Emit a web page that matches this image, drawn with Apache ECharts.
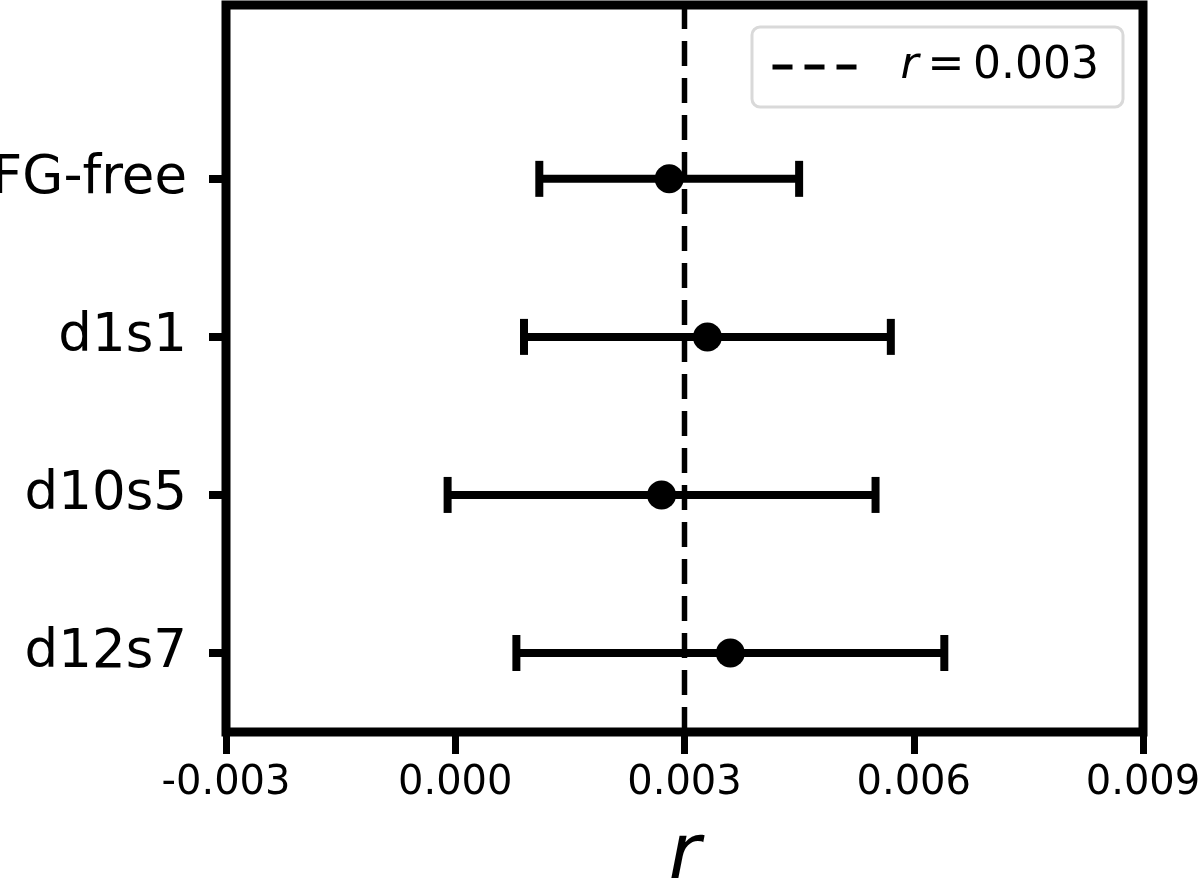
<!DOCTYPE html>
<html>
<head>
<meta charset="utf-8">
<script src="https://cdn.jsdelivr.net/npm/echarts@6/dist/echarts.min.js"></script>
<style>
html,body{margin:0;padding:0;background:#fff;}
#chart{width:1200px;height:878px;}
</style>
</head>
<body>
<div id="chart"></div>
<script>
const categories = ['FG-free', 'd1s1', 'd10s5', 'd12s7'];
const rValues = [0.0028, 0.0033, 0.0027, 0.0036];
const rErrors = [0.0017, 0.0024, 0.0028, 0.0028];
const refR = 0.003;
const refLabel = 'r = 0.003';
const xMin = -0.003, xMax = 0.009, xStep = 0.003;
const yMin = -0.5, yMax = 4.1;
const catPos = categories.map((c, i) => categories.length - 1 - i);

const FONT = 'DejaVu Sans';
const chart = echarts.init(document.getElementById('chart'), null, {renderer: 'canvas'});

const errData = categories.map((c, i) => [rValues[i] - rErrors[i], rValues[i] + rErrors[i], catPos[i]]);
const ptData = categories.map((c, i) => [rValues[i], catPos[i]]);

chart.setOption({
  animation: false,
  backgroundColor: '#fff',
  grid: {
    left: 226, right: 57, top: 5, bottom: 146,
    outerBoundsMode: 'none', containLabel: false,
    show: true, borderColor: '#000', borderWidth: 9, backgroundColor: 'transparent'
  },
  legend: {
    data: [refLabel],
    left: 752, top: 27,
    padding: [15, 24, 15, 18],
    itemWidth: 88, itemHeight: 14,
    backgroundColor: '#fff',
    borderColor: '#d9d9d9', borderWidth: 3, borderRadius: 8,
    formatter: () => '{i|r}\u2009=\u20090.003',
    lineStyle: {type: [20, 12], width: 5, color: '#000'},
    itemStyle: {color: 'transparent', borderWidth: 0, opacity: 0},
    textStyle: {
      fontFamily: FONT, fontSize: 44, color: '#000', lineHeight: 50,
      padding: [0, 0, 0, 35],
      rich: {i: {fontFamily: FONT, fontSize: 44, fontStyle: 'italic', color: '#000'}}
    }
  },
  xAxis: {
    type: 'value', min: xMin, max: xMax, interval: xStep,
    axisLine: {show: false, onZero: false},
    splitLine: {show: false},
    axisTick: {show: true, length: 22, lineStyle: {color: '#000', width: 7}},
    axisLabel: {
      fontFamily: FONT, fontSize: 40, color: '#000', margin: 32,
      showMinLabel: true, showMaxLabel: true,
      formatter: v => v.toFixed(3)
    },
    name: 'r', nameLocation: 'middle', nameGap: 88,
    nameTextStyle: {fontFamily: FONT, fontSize: 78, fontStyle: 'italic', color: '#000'}
  },
  yAxis: {
    type: 'value', min: yMin, max: yMax,
    axisLine: {show: false, onZero: false},
    splitLine: {show: false},
    axisTick: {show: true, length: 17, customValues: catPos.slice().reverse(), lineStyle: {color: '#000', width: 8}},
    axisLabel: {
      fontFamily: FONT, fontSize: 53, color: '#000', margin: 39,
      customValues: catPos.slice().reverse(),
      formatter: v => categories[categories.length - 1 - Math.round(v)]
    }
  },
  series: [
    {
      name: refLabel,
      type: 'line',
      data: [[refR, yMin], [refR, yMax]],
      symbol: 'none', showSymbol: false,
      lineStyle: {color: '#000', width: 5.5, type: [25, 12]},
      itemStyle: {color: '#000'},
      silent: true, z: 2
    },
    {
      type: 'custom',
      data: errData,
      encode: {x: [0, 1], y: 2},
      renderItem: function (params, api) {
        const y = api.value(2);
        const p1 = api.coord([api.value(0), y]);
        const p2 = api.coord([api.value(1), y]);
        const h = 18;
        const st = {stroke: '#000', lineWidth: 8, lineCap: 'butt'};
        return {
          type: 'group',
          children: [
            {type: 'line', shape: {x1: p1[0], y1: p1[1], x2: p2[0], y2: p2[1]}, style: st},
            {type: 'line', shape: {x1: p1[0], y1: p1[1] - h, x2: p1[0], y2: p1[1] + h}, style: st},
            {type: 'line', shape: {x1: p2[0], y1: p2[1] - h, x2: p2[0], y2: p2[1] + h}, style: st}
          ]
        };
      },
      silent: true, z: 3
    },
    {
      type: 'scatter',
      data: ptData,
      symbol: 'circle', symbolSize: 29,
      itemStyle: {color: '#000', opacity: 1},
      silent: true, z: 4
    }
  ]
});
</script>
</body>
</html>
